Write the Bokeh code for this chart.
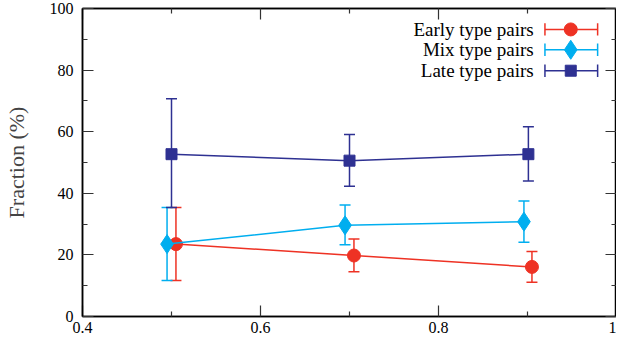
from bokeh.plotting import figure
from bokeh.models import (ColumnDataSource, Whisker, TeeHead, FixedTicker,
                          LinearAxis, Range1d)
from bokeh.core.properties import value
from bokeh.embed import file_html
from bokeh.resources import INLINE

# ---- data ----
x_early = [0.505, 0.705, 0.905]
y_early = [23.5, 19.8, 16.1]
lo_early = [11.7, 14.5, 11.1]
hi_early = [35.4, 25.2, 21.1]

x_mix = [0.495, 0.695, 0.896]
y_mix = [23.5, 29.6, 30.8]
lo_mix = [11.7, 23.3, 24.1]
hi_mix = [35.4, 36.2, 37.5]

x_late = [0.500, 0.700, 0.901]
y_late = [52.7, 50.6, 52.7]
lo_late = [35.4, 42.3, 44.0]
hi_late = [70.7, 59.1, 61.6]

series_names = ["Early type pairs", "Mix type pairs", "Late type pairs"]
colors = ["#ee3224", "#00aeef", "#2e3192"]
markers = ["circle", "diamond", "square"]
sizes = [13, 19, 11]

x_ticks = [0.4, 0.6, 0.8, 1.0]
x_minor = [0.5, 0.7, 0.9]
x_labels = {0.4: "0.4", 0.6: "0.6", 0.8: "0.8", 1.0: "1"}
y_ticks = [0, 20, 40, 60, 80, 100]
y_minor = [10, 30, 50, 70, 90]

FONT = "Liberation Serif"

p = figure(width=616, height=335, output_backend="svg", toolbar_location=None,
           x_range=Range1d(0.4, 1.0), y_range=Range1d(0, 100),
           x_axis_location=None, y_axis_location=None,
           min_border_left=75, min_border_right=0, min_border_top=8,
           min_border_bottom=0)
p.grid.visible = False
p.background_fill_color = "white"
p.outline_line_color = "black"
p.outline_line_width = 1.5


def style_axis(ax, show_labels, ticks=None):
    ax.axis_line_color = "black"
    ax.axis_line_width = 1.5
    ax.major_tick_in = 11
    ax.major_tick_out = 0
    ax.minor_tick_in = 5
    ax.minor_tick_out = 0
    ax.major_tick_line_color = "#333333"
    ax.minor_tick_line_color = "#333333"
    ax.major_tick_line_width = 1.2
    ax.minor_tick_line_width = 1.2
    if show_labels:
        ax.major_label_text_font = FONT
        ax.major_label_text_font_size = "16px"
        ax.major_label_text_color = "black"
    else:
        ax.major_label_overrides = {t: "" for t in ticks}
        ax.major_label_text_font_size = "1px"
        ax.major_label_standoff = 0
        ax.axis_label_standoff = 0


xt = FixedTicker(ticks=x_ticks, minor_ticks=x_minor)
yt = FixedTicker(ticks=y_ticks, minor_ticks=y_minor)

xb = LinearAxis(ticker=xt, major_label_overrides=x_labels)
style_axis(xb, True)
xb.major_label_standoff = 5
p.add_layout(xb, "below")

xa = LinearAxis(ticker=xt)
style_axis(xa, False, x_ticks)
p.add_layout(xa, "above")

yl = LinearAxis(ticker=yt, axis_label="Fraction (%)")
style_axis(yl, True)
yl.major_label_standoff = 9
yl.axis_label_text_font = FONT
yl.axis_label_text_font_size = "22px"
yl.axis_label_text_font_style = "normal"
yl.axis_label_standoff = 18
p.add_layout(yl, "left")

yr = LinearAxis(ticker=yt)
style_axis(yr, False, y_ticks)
p.add_layout(yr, "right")

data = [(x_early, y_early, lo_early, hi_early),
        (x_mix, y_mix, lo_mix, hi_mix),
        (x_late, y_late, lo_late, hi_late)]

for (xs, ys, lo, hi), c, m, s in zip(data, colors, markers, sizes):
    src = ColumnDataSource(dict(x=xs, y=ys, lo=lo, hi=hi))
    p.line("x", "y", source=src, line_color=c, line_width=1.5)
    w = Whisker(base="x", lower="lo", upper="hi", source=src,
                line_color=c, line_width=1.5,
                upper_head=TeeHead(size=11, line_color=c, line_width=1.5),
                lower_head=TeeHead(size=11, line_color=c, line_width=1.5))
    p.add_layout(w)
    p.scatter("x", "y", source=src, marker=m, size=s, fill_color=c,
              line_color=c)

# ---- legend (text right-aligned, sample to the right) ----
leg_rows_y = [93.2, 86.6, 79.8]
leg_text_x = 0.907
leg_x0, leg_x1, leg_xm = 0.9196, 0.9788, 0.9486
cap_half = 2.0
for name, c, m, s, ly in zip(series_names, colors, markers, sizes, leg_rows_y):
    p.text(x=[leg_text_x], y=[ly], text=[name], text_align="right",
           text_baseline="middle", text_font=value(FONT),
           text_font_size="19px", text_color="black")
    p.segment(x0=[leg_x0], y0=[ly], x1=[leg_x1], y1=[ly], line_color=c,
              line_width=1.5)
    p.segment(x0=[leg_x0, leg_x1], y0=[ly - cap_half] * 2,
              x1=[leg_x0, leg_x1], y1=[ly + cap_half] * 2, line_color=c,
              line_width=1.5)
    p.scatter(x=[leg_xm], y=[ly], marker=m, size=s, fill_color=c,
              line_color=c)

open("out.html", "w").write(file_html(p, INLINE))
